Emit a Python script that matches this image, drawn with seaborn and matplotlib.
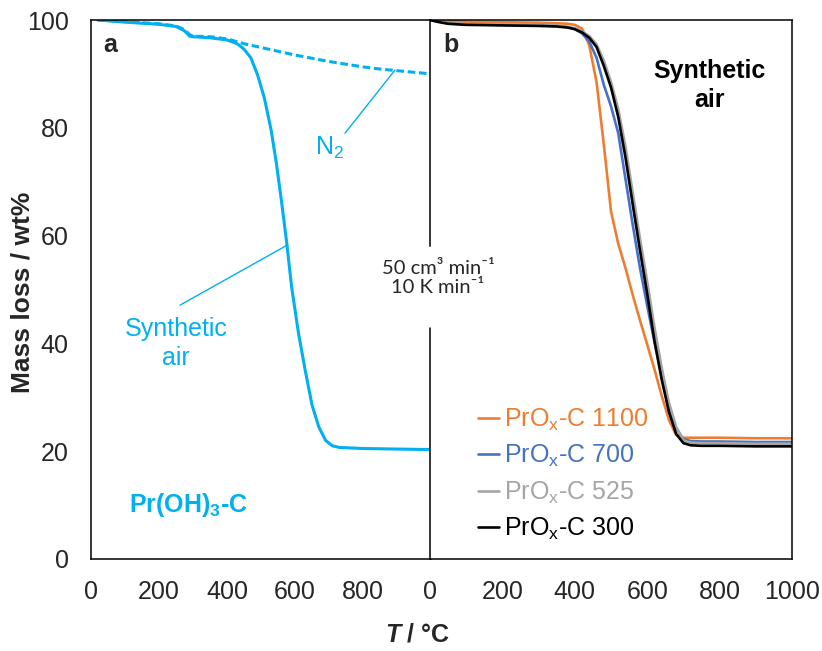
import numpy as np
import pandas as pd
import matplotlib
matplotlib.use("Agg")
import matplotlib.pyplot as plt
from matplotlib.lines import Line2D
import seaborn as sns

# ---------------- data ----------------
# Panel a: Pr(OH)3-C
T_air = [20, 100, 200, 250, 275, 290, 300, 350, 400, 430, 450, 470, 490, 510, 530, 545,
         560, 575, 590, 610, 630, 650, 670, 690, 710, 730, 800, 900, 1000]
m_air = [100, 99.6, 99.2, 98.8, 98.0, 97.0, 96.9, 96.7, 96.3, 95.6, 94.6, 93.0, 89.8, 85.5, 79.5, 73.5,
         66.5, 59.0, 50.5, 42.0, 35.0, 28.6, 24.5, 22.0, 21.0, 20.7, 20.5, 20.4, 20.3]
T_n2 = [20, 100, 200, 250, 275, 290, 300, 350, 400, 450, 500, 550, 600, 650, 700, 750, 800,
        850, 900, 950, 1000]
m_n2 = [100, 99.7, 99.3, 98.9, 98.2, 97.3, 97.0, 96.9, 96.5, 95.6, 94.9, 94.2, 93.5, 92.9, 92.3, 91.8,
        91.3, 90.9, 90.6, 90.3, 90.0]

# Panel b: PrOx-C samples in synthetic air
T_b = [0, 25, 50, 100, 200, 300, 350, 380, 400, 420, 440, 460, 480, 500, 520, 540, 560, 580,
       600, 620, 640, 660, 680, 700, 720, 750, 800, 900, 1000]
m_1100 = [100, 99.9, 99.8, 99.7, 99.6, 99.5, 99.4, 99.3, 99.1, 98.4, 95.3, 88.5, 77.0, 64.5,
          58.5, 54.0, 49.0, 44.3, 39.8, 35.2, 30.3, 25.8, 23.0, 22.5, 22.5, 22.5, 22.5, 22.4, 22.4]
m_700 = [100, 99.7, 99.4, 99.2, 99.1, 99.0, 98.9, 98.7, 98.3, 97.5, 96.0, 93.0, 88.0, 84.0,
         79.0, 70.5, 62.0, 54.0, 47.0, 40.3, 34.0, 28.5, 24.3, 22.2, 21.9, 21.8, 21.8, 21.7, 21.7]
m_525 = [100, 99.7, 99.4, 99.2, 99.1, 99.0, 98.9, 98.7, 98.5, 97.9, 97.0, 95.5, 92.5, 88.5,
         83.5, 76.5, 68.0, 59.5, 51.5, 43.0, 35.5, 29.0, 24.5, 22.0, 21.6, 21.5, 21.5, 21.4, 21.4]
m_300 = [100, 99.6, 99.3, 99.1, 99.0, 98.9, 98.8, 98.6, 98.3, 97.7, 96.7, 95.0, 91.5, 87.5,
         82.0, 74.5, 65.8, 57.3, 49.2, 40.5, 33.3, 27.3, 23.2, 21.5, 21.1, 21.0, 21.0, 20.9, 20.9]
samples = ["PrO$_\\mathregular{x}$-C 1100", "PrO$_\\mathregular{x}$-C 700",
           "PrO$_\\mathregular{x}$-C 525", "PrO$_\\mathregular{x}$-C 300"]
sample_colors = ["#ED7D31", "#4472C4", "#A5A5A5", "#000000"]

xticks_a = [0, 200, 400, 600, 800]
xticks_b = [0, 200, 400, 600, 800, 1000]
yticks = [0, 20, 40, 60, 80, 100]
CYAN = "#00B0F0"

# ---------------- style ----------------
sns.set_style("white")
plt.rcParams["font.family"] = ["Liberation Sans", "DejaVu Sans"]
plt.rcParams["mathtext.fontset"] = "custom"
plt.rcParams["mathtext.rm"] = "Liberation Sans"
plt.rcParams["mathtext.it"] = "Liberation Sans:italic"
plt.rcParams["mathtext.bf"] = "Liberation Sans:bold"

fig = plt.figure(figsize=(8.22, 6.51), dpi=100)
bottom = 1 - 559 / 651
height = 539 / 651
ax_a = fig.add_axes([91 / 822, bottom, 340 / 822, height])
ax_b = fig.add_axes([430 / 822, bottom, 362 / 822, height])

# ---------------- panel a ----------------
sns.lineplot(x=T_air, y=m_air, ax=ax_a, color=CYAN, lw=2.2, sort=False)
sns.lineplot(x=T_n2, y=m_n2, ax=ax_a, color=CYAN, lw=2.2, sort=False,
             linestyle=(0, (2.5, 1.2)))

# ---------------- panel b ----------------
df_b = pd.DataFrame({
    "T": T_b * 4,
    "m": m_1100 + m_700 + m_525 + m_300,
    "sample": sum([[s] * len(T_b) for s in samples], []),
})
sns.lineplot(data=df_b, x="T", y="m", hue="sample", hue_order=samples,
             palette=sample_colors, ax=ax_b, lw=1.9, legend=False, sort=False)

for ax in (ax_a, ax_b):
    ax.set_ylim(0, 100)
    ax.set_xlim(0, 1000)
    ax.set_xlabel("")
    ax.set_ylabel("")
    for sp in ax.spines.values():
        sp.set_color("black")
        sp.set_linewidth(1.1)

ax_a.set_xticks(xticks_a)
ax_a.set_yticks(yticks)
ax_a.spines["right"].set_visible(False)
ax_a.tick_params(axis="x", direction="in", length=8, width=1.0, pad=15, labelsize=18)
ax_a.tick_params(axis="y", direction="in", length=6, width=1.0, pad=16, labelsize=18)

ax_b.set_xticks(xticks_b)
ax_b.set_yticks(yticks[1:-1])
ax_b.set_yticklabels([])
ax_b.tick_params(axis="x", direction="in", length=8, width=1.0, pad=15, labelsize=18)
ax_b.tick_params(axis="y", direction="inout", length=9, width=1.0)
ax_b.spines["left"].set_bounds(58, 100)
ax_b.axvline(0, ymin=0, ymax=0.429, color="black", lw=1.1, clip_on=False)

# ---------------- annotations ----------------
ax_a.text(35, 95.4, "a", fontsize=18, fontweight="bold", ha="left", va="center")
ax_b.text(36, 95.4, "b", fontsize=18, fontweight="bold", ha="left", va="center")

ax_a.annotate("", xy=(894, 90.7), xytext=(747, 79),
              arrowprops=dict(arrowstyle="-", color=CYAN, lw=1.0, shrinkA=0, shrinkB=0))
ax_a.text(703, 76.3, "N$_\\mathregular{2}$", color=CYAN, fontsize=18, ha="center", va="center")
ax_a.annotate("", xy=(579, 58.3), xytext=(262, 47.1),
              arrowprops=dict(arrowstyle="-", color=CYAN, lw=1.0, shrinkA=0, shrinkB=0))
ax_a.text(250, 40.0, "Synthetic\nair", color=CYAN, fontsize=18, ha="center", va="center",
          linespacing=1.25)
ax_a.text(288, 10, "Pr(OH)$_\\mathbf{3}$-C", color=CYAN, fontsize=18, fontweight="bold",
          ha="center", va="center")

ax_b.text(773, 87.8, "Synthetic\nair", color="black", fontsize=18, fontweight="bold",
          ha="center", va="center", linespacing=1.25)

fig.text(438 / 822, 1 - 278 / 651, "50 cm³ min⁻¹\n10 K min⁻¹", fontsize=14.5,
         ha="center", va="center", family=["Lato", "DejaVu Sans"], linespacing=1.2)

handles = [Line2D([], [], color=c, lw=1.9) for c in sample_colors]
leg = ax_b.legend(handles, samples, loc="upper left", bbox_to_anchor=(0.133, 0.282),
                  frameon=False, fontsize=18, handlelength=0.85, handletextpad=0.2,
                  labelspacing=0.40, borderpad=0, borderaxespad=0)
for t, c in zip(leg.get_texts(), sample_colors):
    t.set_color(c)

fig.text(22 / 822, 1 - 292 / 651, "Mass loss / wt%", rotation=90, fontsize=19,
         fontweight="bold", ha="center", va="center")
fig.text(400 / 822, 1 - 635 / 651, "T", fontsize=18, fontweight="bold", style="italic",
         ha="right", va="center")
fig.text(400 / 822, 1 - 635 / 651, " / °C", fontsize=18, fontweight="bold",
         ha="left", va="center")

fig.savefig("out.png", dpi=100)
